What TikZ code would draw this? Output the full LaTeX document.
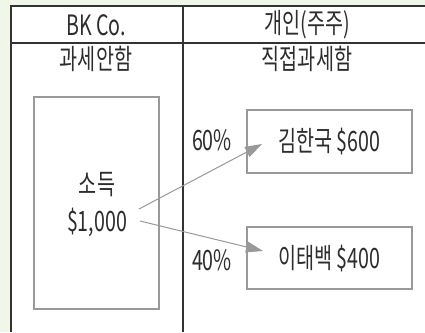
\documentclass[tikz,border=0pt]{standalone}
\usepackage{fontspec}
\setmainfont{Noto Sans CJK KR}[FakeStretch=0.7]
\usetikzlibrary{arrows.meta}
\definecolor{bggreen}{RGB}{241,247,232}
\definecolor{frameline}{RGB}{51,51,51}
\definecolor{boxline}{RGB}{153,153,153}
\definecolor{inktext}{RGB}{45,45,45}

\tikzset{
  label/.style={text=inktext,font=\fontsize{28}{31}\selectfont,inner sep=0pt},
  framed/.style={draw=boxline,line width=1.2pt,fill=white},
  share/.style={draw=boxline,line width=1pt,-{Triangle[length=17pt,width=11pt]}}
}

\begin{document}
\begin{tikzpicture}[x=1pt,y=-1pt]
  % background and bounding box
  \fill[bggreen] (0,0) rectangle (425,332);
  \useasboundingbox (0,0) rectangle (425,332);

  % table frame (open to the right and bottom)
  \fill[white] (11,6) rectangle (425,332);
  \draw[frameline,line width=2pt] (425,6) -- (11,6) -- (11,332);
  \draw[frameline,line width=2pt] (11,43) -- (425,43);
  \draw[frameline,line width=2pt] (183,6) -- (183,332);

  % headers
  \node[label] (company) at (96,25) {BK Co.};
  \node[label] (owner) at (307,25) {개인(주주)};
  \node[label] (notax) at (96,59) {과세안함};
  \node[label] (tax) at (307,59) {직접과세함};

  % Left: income box
  \draw[framed] (34,97) rectangle (159,309);
  \node[label] (income) at (97,185) {소득};
  \node[label] (amount) at (97,222) {\$1,000};

  % Right: shareholders
  \draw[framed] (247,110) rectangle (412,173);
  \node[label] (kim) at (329,142) {김한국 \$600};
  \draw[framed] (247,227) rectangle (412,289);
  \node[label] (lee) at (329,259) {이태백 \$400};
  \node[label] (pctkim) at (212,140) {60\%};
  \node[label] (pctlee) at (212,260) {40\%};

  % arrows
  \coordinate (srckim) at (139,209);
  \coordinate (srclee) at (140,221);
  \coordinate (dstkim) at (262,144);
  \coordinate (dstlee) at (263,251);
  \draw[share] (srckim) -- (dstkim);
  \draw[share] (srclee) -- (dstlee);
\end{tikzpicture}
\end{document}
